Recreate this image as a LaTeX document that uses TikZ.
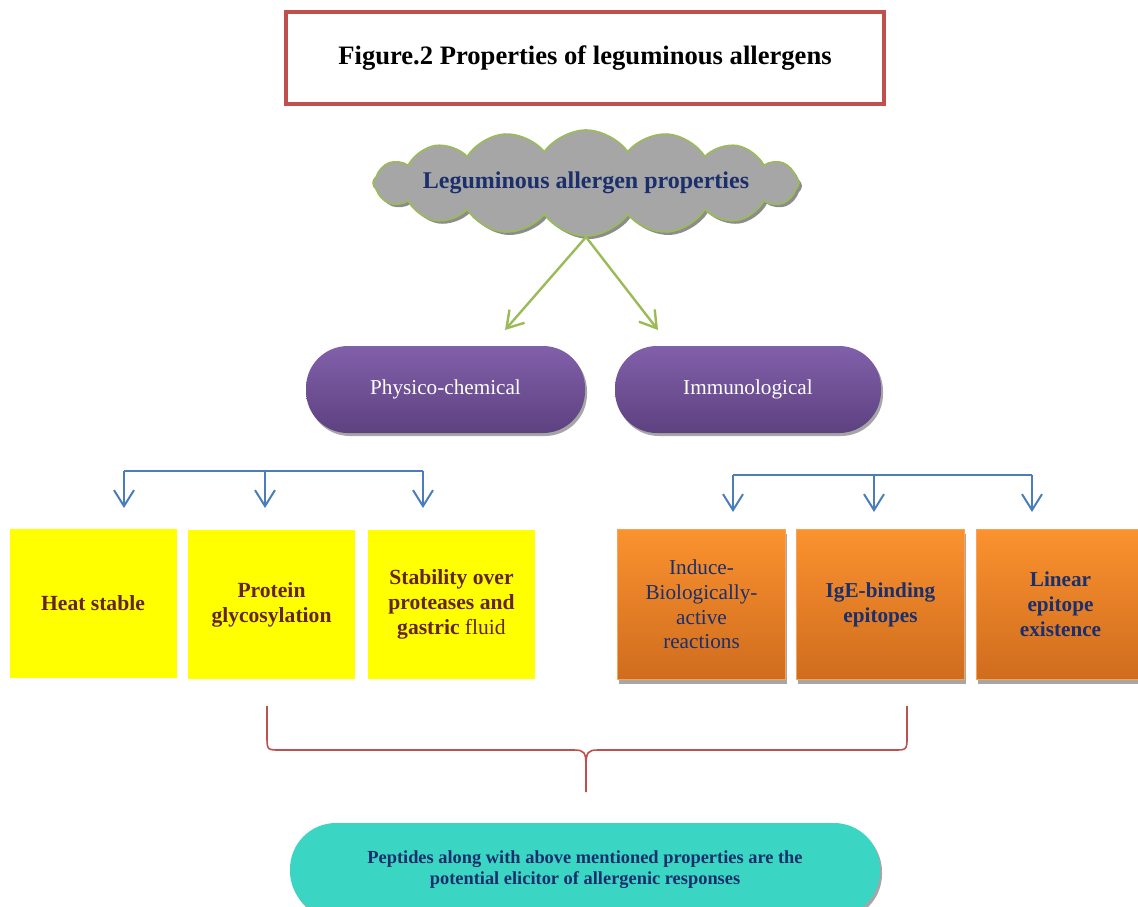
\documentclass[tikz,border=0pt]{standalone}
\usepackage{fontspec}
\setmainfont{Liberation Serif}
\usepackage{tikz}
\usetikzlibrary{arrows.meta,shapes.symbols,shadows,calc}
\definecolor{framered}{HTML}{C0504D}
\definecolor{cloudgray}{HTML}{A6A6A6}
\definecolor{leafgreen}{HTML}{9BBB59}
\definecolor{navy}{HTML}{1A2F6B}
\definecolor{purpletop}{HTML}{8160AA}
\definecolor{purplebot}{HTML}{5D4180}
\definecolor{arrowblue}{HTML}{4A7EBB}
\definecolor{boxyellow}{HTML}{FFFF00}
\definecolor{boxbrown}{HTML}{632523}
\definecolor{orangetop}{HTML}{FB922F}
\definecolor{orangebot}{HTML}{CF6C1E}
\definecolor{orangeedge}{HTML}{F9A35A}
\definecolor{tealfill}{HTML}{3BD5C4}

\begin{document}
\begin{tikzpicture}[x=0.5pt,y=-0.5pt,>={Straight Barb[length=8pt,width=10pt]},
		pill/.style={rectangle,rounded corners=21pt,minimum height=43.5pt,
			drop shadow={shadow xshift=1pt,shadow yshift=-1.5pt,fill=black!35,opacity=1}},
		ybox/.style={rectangle,fill=boxyellow,minimum width=83.5pt,minimum height=74.5pt,
			align=center,text=boxbrown,font=\fontsize{10.8}{12.5}\selectfont\bfseries},
		obox/.style={rectangle,draw=orangeedge,line width=0.6pt,top color=orangetop,bottom color=orangebot,
			minimum width=84pt,minimum height=75pt,align=center,text=navy,
			font=\fontsize{10.6}{12.4}\selectfont,
			drop shadow={shadow xshift=0.6pt,shadow yshift=-2pt,fill=black!35,opacity=1}},
		greenln/.style={leafgreen,line width=1.2pt},
		blueln/.style={arrowblue,line width=1pt},
		braceln/.style={framered,line width=0.8pt}]
		\useasboundingbox (0,0) rectangle (1138,906);
		\clip (0,0) rectangle (1138,906);
		
		\node[draw=framered,line width=2pt,minimum width=299pt,minimum height=46pt,
			font=\fontsize{13.3}{16}\selectfont\bfseries] (title) at (585,58)
			{Figure.2 Properties of leguminous allergens};
		
		\node[cloud,cloud puffs=16,cloud puff arc=110,cloud ignores aspect,draw=leafgreen,fill=cloudgray,
			line width=0.8pt,inner sep=0pt,minimum width=213pt,minimum height=53pt,
			drop shadow={shadow xshift=1.5pt,shadow yshift=-1.5pt,fill=black!45,opacity=1}] (props) at (586,183) {};
		\node[text=navy,font=\fontsize{12}{14}\selectfont\bfseries] (propsText) at (props.center)
			{Leguminous allergen properties};
		
		\node[pill,top color=purpletop,bottom color=purplebot,minimum width=139.5pt,text=white,
			font=\fontsize{10.6}{12}\selectfont] (phys) at (445.5,389.5) {Physico-chemical};
		\node[pill,top color=purpletop,bottom color=purplebot,minimum width=133pt,text=white,
			font=\fontsize{10.6}{12}\selectfont] (immu) at (748,389.5) {Immunological};
		
		\coordinate (physTip) at (505,330);
		\coordinate (immuTip) at (658,330);
		\path[greenln,->]
		($(props.center)+(0,54)$) edge (physTip)
		edge (immuTip);
		
		\node[ybox] (heat) at (93,603.5) {Heat stable};
		\node[ybox] (glyco) at (271.5,604.5) {Protein\\glycosylation};
		\node[ybox] (stab) at (451.5,604.5) {Stability over\\proteases and\\gastric \textmd{fluid}};
		
		\node[obox] (induce) at (701.5,604.5) {Induce-\\Biologically-\\active\\reactions};
		\node[obox,font=\fontsize{10.6}{12.4}\selectfont\bfseries] (ige) at (880.5,604.5) {IgE-binding\\epitopes};
		\node[obox,font=\fontsize{10.6}{12.4}\selectfont\bfseries] (linear) at (1060.5,604.5) {Linear\\epitope\\existence};
		
		\coordinate (pcA) at (124,471);
		\coordinate (pcB) at (265,471);
		\coordinate (pcC) at (423,471);
		\coordinate (imA) at (733,475);
		\coordinate (imB) at (874,475);
		\coordinate (imC) at (1032,475);
		\draw[blueln] (pcA) -- (pcC);
		\draw[blueln] (imA) -- (imC);
		\foreach \c in {pcA,pcB,pcC,imA,imB,imC}
		\draw[blueln,->] (\c) -- ++(0,37);
		
		\coordinate (braceL) at (267,706);
		\coordinate (braceR) at (907,706);
		\coordinate (braceM) at (586,792);
		\draw[braceln] (braceL) -- (267,738) .. controls (267,750) and (268,750) .. (280,750)
		-- (574,750) .. controls (584,750) and (586,752) .. (586,766) -- (braceM);
		\draw[braceln] (braceR) -- (907,738) .. controls (907,750) and (906,750) .. (894,750)
		-- (598,750) .. controls (588,750) and (586,752) .. (586,766);
		
		\node[pill,rounded corners=23pt,fill=tealfill,minimum width=295pt,minimum height=47pt,align=center,
			text=navy,font=\fontsize{9.2}{10.5}\selectfont\bfseries] (pept) at (585,870)
			{Peptides along with above mentioned properties are the\\potential elicitor of allergenic responses};
\end{tikzpicture}
\end{document}
